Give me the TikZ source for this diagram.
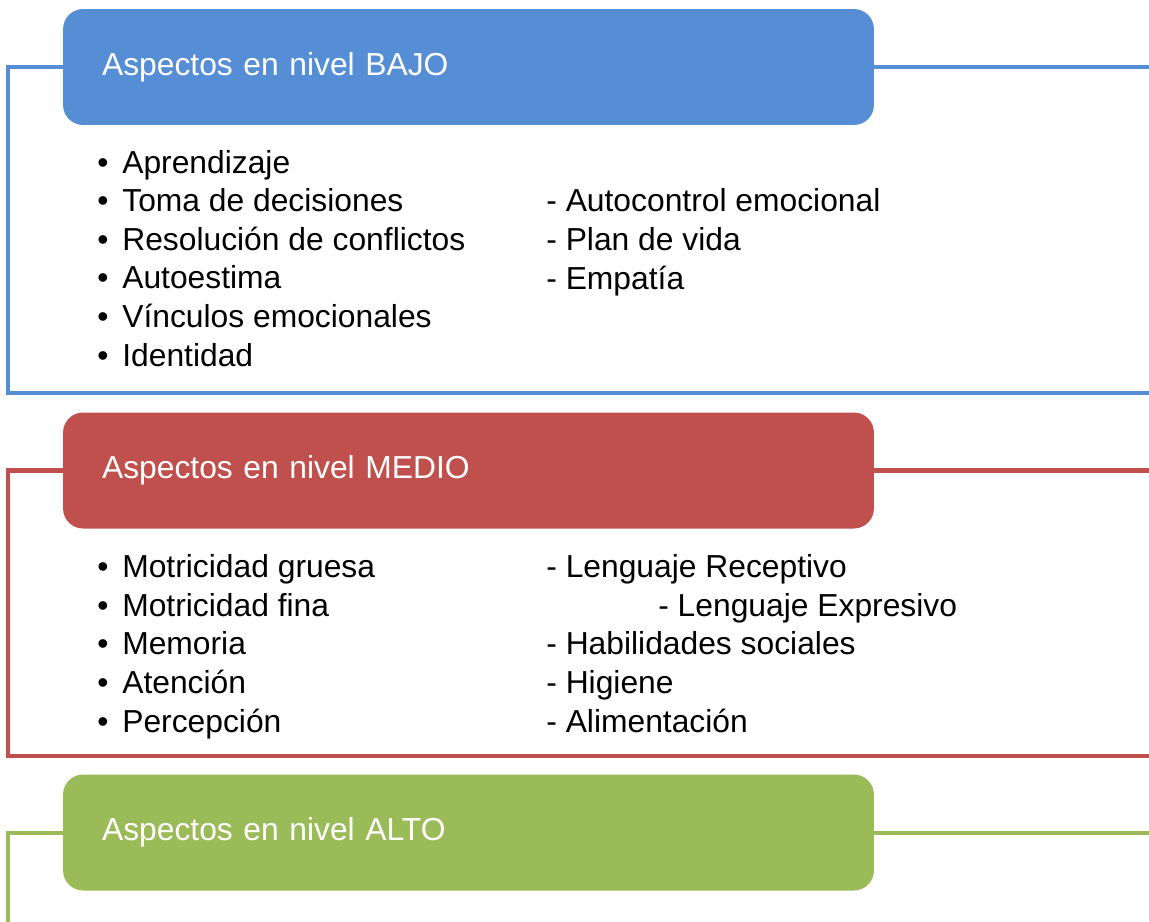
\documentclass[tikz,border=0pt]{standalone}
\usepackage{fontspec}
\setmainfont{Liberation Sans}
\definecolor{bajoBlue}{RGB}{85,142,213}
\definecolor{medioRed}{RGB}{192,80,77}
\definecolor{altoGreen}{RGB}{155,187,89}
\usetikzlibrary{positioning}
\newcommand{\itm}[1]{\makebox[0.5cm][l]{•}#1}

\begin{document}
\begin{tikzpicture}[x=0.02cm,y=-0.02cm,
    hdr/.style={rounded corners=0.4cm, text=white, inner xsep=0.78cm, inner ysep=0pt,
      text width=14.66cm, align=left, minimum height=2.32cm,
      font=\fontsize{18.1}{21.9}\selectfont},
    frame/.style={line width=2.3pt},
    items/.style={inner sep=0pt, anchor=base west, align=left,
      font=\fontsize{18.1}{21.95}\selectfont}]
  \useasboundingbox (0,0) rectangle (1149,921);
  % Header boxes
  \node[hdr, fill=bajoBlue] (bajo) at (468.5,67) {\raisebox{-1pt}{Aspectos en nivel BAJO}};
  \node[hdr, fill=medioRed] (medio) at (468.5,470.5) {\raisebox{-1pt}{Aspectos en nivel MEDIO}};
  \node[hdr, fill=altoGreen] (alto) at (468.5,832.5) {\raisebox{-1pt}{Aspectos en nivel ALTO}};
  % Frames
  \draw[frame, bajoBlue] (bajo.west) -| (8,393) -- (1149,393);
  \draw[frame, bajoBlue] (bajo.east) -- +(275,0);
  \draw[frame, medioRed] (medio.west) -| (8,756) -- (1149,756);
  \draw[frame, medioRed] (medio.east) -- +(275,0);
  \draw[frame, altoGreen] (alto.west) -| (8,925);
  \draw[frame, altoGreen] (alto.east) -- +(275,0);
  % Items, level BAJO (anchored at the last line)
  \node[items] (bajoA) at (97,366) {\itm{Aprendizaje}\\ \itm{Toma de decisiones}\\
    \itm{Resolución de conflictos}\\ \itm{Autoestima}\\ \itm{Vínculos emocionales}\\
    \itm{Identidad}};
  \node[items] (bajoB) at (546,289) {- Autocontrol emocional\\ - Plan de vida\\ - Empatía};
  % Items, level MEDIO
  \node[items] (medioA) at (97,732) {\itm{Motricidad gruesa}\\ \itm{Motricidad fina}\\
    \itm{Memoria}\\ \itm{Atención}\\ \itm{Percepción}};
  \node[items] (medioB) at (546,732) {- Lenguaje Receptivo\\
    \hspace{2.24cm}- Lenguaje Expresivo\\ - Habilidades sociales\\ - Higiene\\
    - Alimentación};
\end{tikzpicture}
\end{document}
